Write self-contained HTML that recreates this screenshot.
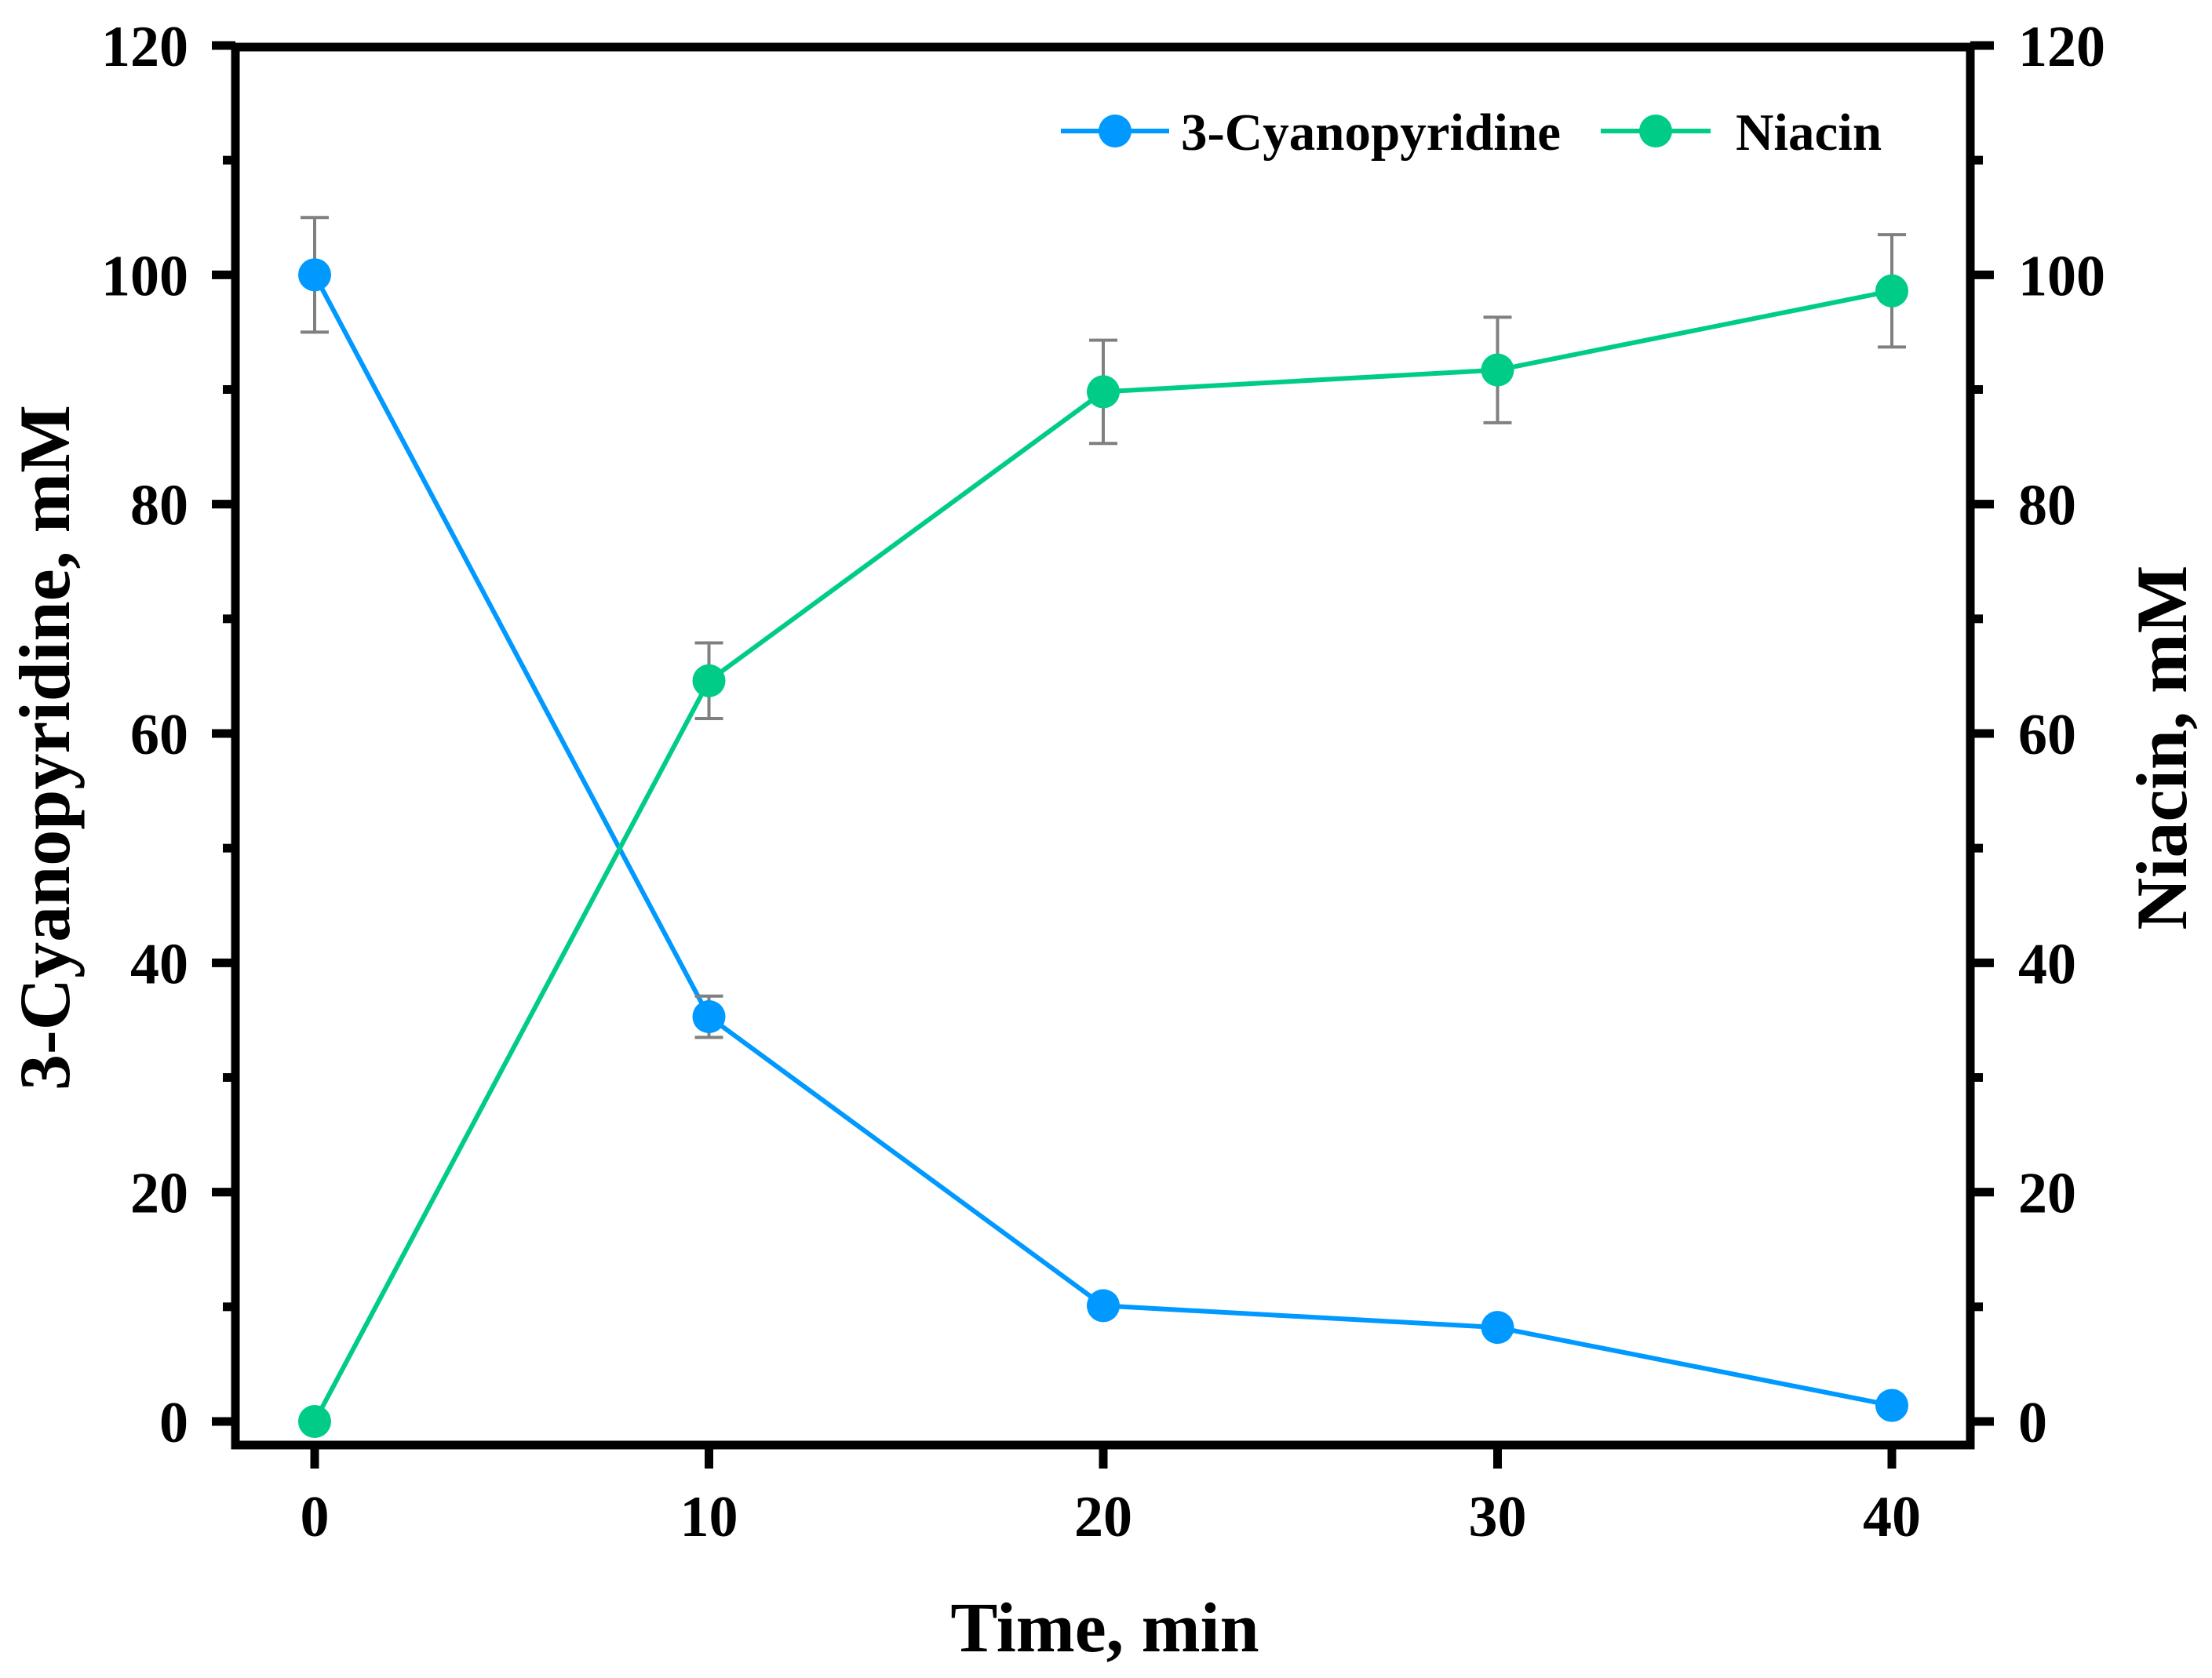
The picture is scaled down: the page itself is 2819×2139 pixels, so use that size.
<!DOCTYPE html>
<html><head><meta charset="utf-8"><style>
html,body{margin:0;padding:0;background:#fff;}
svg{display:block;}
text{font-family:"Liberation Serif",serif;font-weight:bold;fill:#000;}
</style></head><body>
<svg id="chart" width="2819" height="2139" viewBox="0 0 2819 2139" xmlns="http://www.w3.org/2000/svg">
<g id="axes"></g>
<g id="series"></g>
<g id="legend">
  <line x1="1352" y1="167" x2="1490" y2="167" stroke="#0099ff" stroke-width="6"/>
  <circle cx="1421" cy="167" r="21" fill="#0099ff"/>
  <text x="1505" y="191" font-size="67">3-Cyanopyridine</text>
  <line x1="2040" y1="167" x2="2180" y2="167" stroke="#00cc88" stroke-width="6"/>
  <circle cx="2110" cy="167" r="21" fill="#00cc88"/>
  <text x="2212" y="191" font-size="67">Niacin</text>
</g>
<text x="1408" y="2105" font-size="90" text-anchor="middle">Time, min</text>
<text transform="translate(88,953) rotate(-90)" font-size="92" text-anchor="middle">3-Cyanopyridine, mM</text>
<text transform="translate(2786,953) rotate(-90)" font-size="92" text-anchor="middle">Niacin, mM</text>
</svg>
<script>
const times = [0, 10, 20, 30, 40];
const cyano = [100, 35.3, 10.1, 8.2, 1.4];
const cyanoErr = [5, 1.8, 0.6, 0.5, 0.5];
const niacin = [0, 64.6, 89.8, 91.7, 98.6];
const niacinErr = [0, 3.3, 4.5, 4.6, 4.9];
const xTicks = [0, 10, 20, 30, 40];
const yTicks = [0, 20, 40, 60, 80, 100, 120];
const yMinor = [10, 30, 50, 70, 90, 110];

const NS = "http://www.w3.org/2000/svg";
const X0 = 401, X40 = 2411, Y0 = 1812, Y120 = 58;
const L = 300, R = 2511, T = 60, B = 1842;
function sx(v){ return X0 + (X40 - X0) * v / 40; }
function sy(v){ return Y0 - (Y0 - Y120) * v / 120; }
function mk(tag, attrs, parent){
  const e = document.createElementNS(NS, tag);
  for (const k in attrs) e.setAttribute(k, attrs[k]);
  parent.appendChild(e);
  return e;
}
const axes = document.getElementById('axes');
const frame = mk('rect', {x:L, y:T, width:R-L, height:B-T, fill:'none', stroke:'#000', 'stroke-width':11}, axes);



xTicks.forEach(v => {
  const t = mk('line', {x1:sx(v), y1:B, x2:sx(v), y2:B+30, stroke:'#000', 'stroke-width':11}, axes);
  
  
  const l = mk('text', {x:sx(v), y:1958, 'font-size':74, 'text-anchor':'middle'}, axes);
  l.textContent = v;
  
  
});
yTicks.forEach(v => {
  const y = sy(v);
  const t1 = mk('line', {x1:L-30, y1:y, x2:L, y2:y, stroke:'#000', 'stroke-width':11}, axes);
  
  
  const t2 = mk('line', {x1:R, y1:y, x2:R+30, y2:y, stroke:'#000', 'stroke-width':11}, axes);
  
  
  const l1 = mk('text', {x:240, y:y+26, 'font-size':74, 'text-anchor':'end'}, axes);
  l1.textContent = v;
  
  
  const l2 = mk('text', {x:2572, y:y+26, 'font-size':74, 'text-anchor':'start'}, axes);
  l2.textContent = v;
  
  
});
yMinor.forEach(v => {
  const y = sy(v);
  const t1 = mk('line', {x1:L-16, y1:y, x2:L, y2:y, stroke:'#000', 'stroke-width':11}, axes);
  
  
  const t2 = mk('line', {x1:R, y1:y, x2:R+16, y2:y, stroke:'#000', 'stroke-width':11}, axes);
  
  
});

const series = document.getElementById('series');
function drawSeries(vals, errs, color, name){
  const g = mk('g', {}, series);
  
  
  const pts = times.map((t,i) => sx(t) + ',' + sy(vals[i])).join(' ');
  const pl = mk('polyline', {points:pts, fill:'none', stroke:color, 'stroke-width':6}, g);
  
  
  times.forEach((t,i) => {
    const x = sx(t), yt = sy(vals[i]+errs[i]), yb = sy(vals[i]-errs[i]);
    if (errs[i] > 0) {
      const e = mk('path', {d:`M${x},${yt}V${yb}M${x-18},${yt}H${x+18}M${x-18},${yb}H${x+18}`, stroke:'#808080', 'stroke-width':4, fill:'none'}, g);
      
      
    }
  });
  times.forEach((t,i) => {
    const c = mk('circle', {cx:sx(t), cy:sy(vals[i]), r:21, fill:color}, g);
    
    
  });
}
drawSeries(cyano, cyanoErr, '#0099ff', 'cyanopyridine');
drawSeries(niacin, niacinErr, '#00cc88', 'niacin');
</script>
</body></html>
